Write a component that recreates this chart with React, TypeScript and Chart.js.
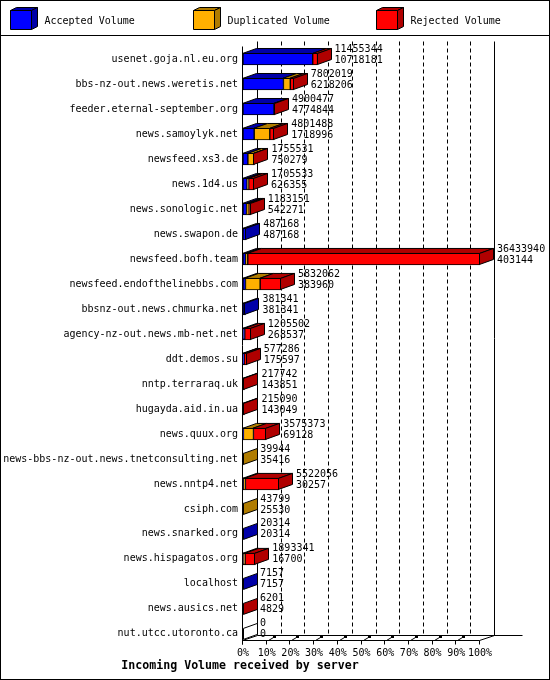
import React, { useEffect, useRef } from 'react';
import { Chart, ChartConfiguration, Plugin, registerables } from 'chart.js';

Chart.register(...registerables);

const servers = [
  'usenet.goja.nl.eu.org',
  'bbs-nz-out.news.weretis.net',
  'feeder.eternal-september.org',
  'news.samoylyk.net',
  'newsfeed.xs3.de',
  'news.1d4.us',
  'news.sonologic.net',
  'news.swapon.de',
  'newsfeed.bofh.team',
  'newsfeed.endofthelinebbs.com',
  'bbsnz-out.news.chmurka.net',
  'agency-nz-out.news.mb-net.net',
  'ddt.demos.su',
  'nntp.terraraq.uk',
  'hugayda.aid.in.ua',
  'news.quux.org',
  'news-bbs-nz-out.news.tnetconsulting.net',
  'news.nntp4.net',
  'csiph.com',
  'news.snarked.org',
  'news.hispagatos.org',
  'localhost',
  'news.ausics.net',
  'nut.utcc.utoronto.ca',
];

const totalVolume = [
  11455344, 7802019, 4900477, 4801488, 1755531, 1705533, 1183151, 487168,
  36433940, 5832062, 381341, 1205502, 577286, 217742, 215090, 3575373, 39944,
  5522056, 43799, 20314, 1893341, 7157, 6201, 0,
];

const acceptedVolume = [
  10718181, 6218206, 4774844, 1718996, 750279, 626355, 542271, 487168, 403144,
  383960, 381341, 268537, 175597, 143851, 143049, 69128, 35416, 30257, 25530,
  20314, 16700, 7157, 4829, 0,
];

const duplicatedVolume = [
  0, 1050000, 0, 2400000, 900000, 250000, 400000, 0, 330000, 2250000, 0, 0, 0,
  0, 0, 1540000, 4528, 350000, 18269, 0, 300000, 0, 0, 0,
];

const rejectedVolume = [
  737163, 533813, 125633, 682492, 105252, 829178, 240880, 0, 35700796, 3198102,
  0, 936965, 401689, 73891, 72041, 1966245, 0, 5141799, 0, 0, 1576641, 0, 1372,
  0,
];

const seriesLabels = ['Accepted Volume', 'Duplicated Volume', 'Rejected Volume'];
const frontColors = ['#0000ff', '#ffb000', '#ff0000'];
const sideColors = ['#0000a8', '#b07c00', '#b00000'];

const FONT = '"DejaVu Sans Mono", monospace';
const DX = 14; // bar depth
const DY = -5;
const WX = 15; // wall depth
const WY = -5;

const maxTotal = Math.max(...totalVolume);
const toPercent = (arr: number[]) => arr.map((v) => (v / maxTotal) * 100);

const poly = (ctx: CanvasRenderingContext2D, pts: number[][], fill: string) => {
  ctx.beginPath();
  ctx.moveTo(pts[0][0], pts[0][1]);
  for (let i = 1; i < pts.length; i++) ctx.lineTo(pts[i][0], pts[i][1]);
  ctx.closePath();
  ctx.fillStyle = fill;
  ctx.fill();
  ctx.stroke();
};

const line = (ctx: CanvasRenderingContext2D, x1: number, y1: number, x2: number, y2: number) => {
  ctx.beginPath();
  ctx.moveTo(x1, y1);
  ctx.lineTo(x2, y2);
  ctx.stroke();
};

const threeD: Plugin<'bar'> = {
  id: 'threeD',
  beforeDraw(chart) {
    const { ctx, width, height } = chart;
    ctx.save();
    ctx.fillStyle = '#ffffff';
    ctx.fillRect(0, 0, width, height);
    ctx.restore();
  },
  beforeDatasetsDraw(chart) {
    const { ctx, chartArea: a } = chart;
    const x = chart.scales.x;
    const floor = Math.round(a.bottom - 6) + 0.5;
    const backTop = a.top + WY;
    const backFloor = floor + WY;
    const left = a.left - 0.5;
    const right = Math.round(a.right) - 0.5;

    ctx.save();
    ctx.strokeStyle = '#000';
    ctx.lineWidth = 1;

    // dashed grid on the back wall
    ctx.setLineDash([4, 3]);
    for (let v = 10; v < 100; v += 10) {
      const px = Math.round(x.getPixelForValue(v) + WX) - 0.5;
      line(ctx, px, backTop, px, backFloor);
    }
    ctx.setLineDash([]);

    line(ctx, left + WX, backTop, left + WX, backFloor);
    line(ctx, right + WX, backTop, right + WX, backFloor);
    line(ctx, left, a.top, left, floor + 4);
    line(ctx, left, floor, right, floor);
    line(ctx, left + WX, backFloor, right + WX + 28, backFloor);
    line(ctx, left, floor, left + WX, backFloor);
    line(ctx, right, floor, right + WX, backFloor);

    for (let v = 0; v <= 100; v += 10) {
      const px = Math.round(x.getPixelForValue(v)) - 0.5;
      line(ctx, px, floor, px, floor + 4);
      if (v > 0 && v < 100) {
        line(ctx, px + 2, floor, px + 7, floor - 3);
        ctx.fillStyle = '#000';
        ctx.fillRect(px + 6.5, floor - 4.5, 3, 2);
      }
    }
    ctx.restore();
  },
  afterDatasetsDraw(chart) {
    const { ctx, chartArea: a } = chart;
    const metas = chart.data.datasets.map((_, i) => chart.getDatasetMeta(i));
    ctx.save();
    ctx.strokeStyle = '#000';
    ctx.lineWidth = 1;
    ctx.font = `10px ${FONT}`;
    ctx.textBaseline = 'middle';
    ctx.textAlign = 'left';

    servers.forEach((_, j) => {
      let last = -1;
      let endX = a.left;
      let y = 0;
      let h = 12;
      metas.forEach((meta, i) => {
        const bar: any = meta.data[j];
        const p = bar.getProps(['x', 'base', 'y', 'height'], true);
        y = p.y;
        h = p.height;
        const top = p.y - p.height / 2 + 0.5;
        const x0 = Math.round(p.base) - 0.5;
        const x1 = Math.round(p.x) - 0.5;
        if ((chart.data.datasets[i].data[j] as number) > 0) {
          last = i;
          endX = p.x;
          if (p.x - p.base > 0.5) {
            poly(ctx, [[x0, top], [x0 + DX, top + DY], [x1 + DX, top + DY], [x1, top]], sideColors[i]);
          }
        }
      });
      const top = y - h / 2 + 0.5;
      const bottom = y + h / 2 - 0.5;
      const sx = Math.max(Math.round(endX) - 0.5, a.left + 0.5);
      poly(
        ctx,
        [[sx, top], [sx + DX, top + DY], [sx + DX, bottom + DY], [sx, bottom]],
        last >= 0 ? sideColors[last] : '#ffffff'
      );

      const tx = Math.max(endX, a.left) + 17;
      ctx.fillStyle = '#000';
      ctx.fillText(String(totalVolume[j]), tx, y - 10);
      ctx.fillText(String(acceptedVolume[j]), tx, y + 1);
    });
    ctx.restore();
  },
  afterDraw(chart) {
    const { ctx, width, height } = chart;
    ctx.save();
    ctx.strokeStyle = '#000';
    ctx.lineWidth = 1;
    ctx.strokeRect(0.5, 0.5, width - 1, height - 1);
    line(ctx, 0, 35.5, width, 35.5);

    ctx.font = `10px ${FONT}`;
    ctx.textBaseline = 'middle';
    ctx.textAlign = 'left';
    chart.data.datasets.forEach((ds, i) => {
      const cx = 10.5 + i * 183;
      const cy = 10.5;
      const w = 21;
      const hh = 19;
      poly(ctx, [[cx, cy], [cx + 6, cy - 3], [cx + w + 6, cy - 3], [cx + w, cy]], sideColors[i]);
      poly(ctx, [[cx + w, cy], [cx + w + 6, cy - 3], [cx + w + 6, cy + hh - 3], [cx + w, cy + hh]], sideColors[i]);
      poly(ctx, [[cx, cy], [cx + w, cy], [cx + w, cy + hh], [cx, cy + hh]], frontColors[i]);
      ctx.fillStyle = '#000';
      ctx.fillText(String(ds.label), cx + 34, 21);
    });
    ctx.restore();
  },
};

const App: React.FC = () => {
  const canvasRef = useRef<HTMLCanvasElement | null>(null);
  const chartRef = useRef<Chart | null>(null);

  useEffect(() => {
    if (!canvasRef.current) return;
    document.body.style.margin = '0';
    if (chartRef.current) chartRef.current.destroy();

    const series = [acceptedVolume, duplicatedVolume, rejectedVolume];

    const config: ChartConfiguration<'bar'> = {
      type: 'bar',
      data: {
        labels: servers,
        datasets: series.map((values, i) => ({
          label: seriesLabels[i],
          data: toPercent(values),
          backgroundColor: frontColors[i],
          borderColor: '#000',
          borderWidth: 1,
          borderSkipped: false,
          barThickness: 12,
        })),
      },
      options: {
        indexAxis: 'y',
        responsive: false,
        animation: false,
        devicePixelRatio: 1,
        layout: { padding: { top: 46.5, right: 70, bottom: 7, left: 0 } },
        plugins: {
          legend: { display: false },
          tooltip: { enabled: false },
          title: {
            display: true,
            position: 'bottom',
            text: 'Incoming Volume received by server',
            color: '#000',
            font: { family: FONT, size: 11.6, weight: 'bold' },
            padding: 0,
          },
        },
        scales: {
          x: {
            stacked: true,
            min: 0,
            max: 100,
            grid: { display: false, drawTicks: false },
            border: { display: false },
            ticks: {
              stepSize: 10,
              autoSkip: false,
              maxRotation: 0,
              padding: 1,
              color: '#000',
              font: { family: FONT, size: 10 },
              callback: (v) => `${v}%`,
            },
            afterFit: (scale) => {
              scale.height = 12.7;
            },
          },
          y: {
            stacked: true,
            grid: { display: false, drawTicks: false },
            border: { display: false },
            ticks: {
              autoSkip: false,
              padding: 5,
              color: '#000',
              font: { family: FONT, size: 10 },
            },
            afterFit: (scale) => {
              scale.width = 243;
            },
          },
        },
      },
      plugins: [threeD],
    };

    chartRef.current = new Chart(canvasRef.current, config);
    return () => {
      if (chartRef.current) {
        chartRef.current.destroy();
        chartRef.current = null;
      }
    };
  }, []);

  return (
    <div style={{ width: 550, height: 680 }}>
      <canvas ref={canvasRef} width={550} height={680} />
    </div>
  );
};

export default App;
